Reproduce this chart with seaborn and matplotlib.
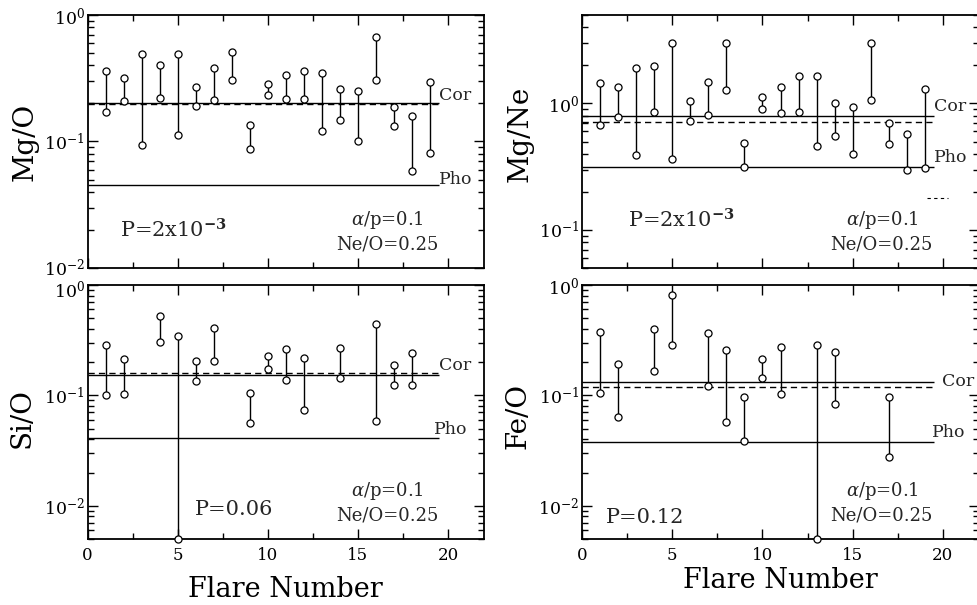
import numpy as np
import pandas as pd
import matplotlib
matplotlib.use("Agg")
import matplotlib.pyplot as plt
import matplotlib.transforms as mtransforms
import seaborn as sns
from matplotlib.ticker import FixedLocator, LogLocator, MultipleLocator, NullFormatter

sns.set_theme(style="ticks")
plt.rcParams['font.family'] = ['DejaVu Serif']
plt.rcParams['mathtext.fontset'] = 'dejavuserif'

# ---------------- data ----------------
mgo_flares = list(range(1, 20))
mgo_hi = [0.361, 0.318, 0.489, 0.405, 0.492, 0.269, 0.379, 0.511, 0.136, 0.284,
          0.338, 0.361, 0.351, 0.262, 0.250, 0.674, 0.188, 0.160, 0.298]
mgo_lo = [0.170, 0.208, 0.094, 0.221, 0.113, 0.192, 0.211, 0.305, 0.087, 0.234,
          0.218, 0.216, 0.120, 0.147, 0.100, 0.305, 0.133, 0.058, 0.081]
mgo_cor, mgo_cor_dash, mgo_pho = 0.202, 0.197, 0.045

mgne_flares = list(range(1, 20))
mgne_hi = [1.46, 1.35, 1.89, 1.99, 2.99, 1.04, 1.48, 2.99, 0.49, 1.12,
           1.36, 1.65, 1.64, 1.00, 0.93, 2.99, 0.70, 0.57, 1.29]
mgne_lo = [0.68, 0.78, 0.39, 0.85, 0.363, 0.73, 0.81, 1.27, 0.314, 0.90,
           0.845, 0.855, 0.46, 0.557, 0.40, 1.06, 0.48, 0.30, 0.309]
mgne_cor, mgne_cor_dash, mgne_pho = 0.79, 0.71, 0.316

sio_flares = [1, 2, 4, 5, 6, 7, 9, 10, 11, 12, 14, 16, 17, 18]
sio_hi = [0.286, 0.212, 0.520, 0.347, 0.206, 0.405, 0.106, 0.227, 0.265, 0.218,
          0.270, 0.440, 0.187, 0.240]
sio_lo = [0.100, 0.103, 0.306, 0.005, 0.134, 0.205, 0.056, 0.174, 0.138, 0.074,
          0.143, 0.059, 0.124, 0.125]
sio_cor, sio_cor_dash, sio_pho = 0.154, 0.159, 0.041

feo_flares = [1, 2, 4, 5, 7, 8, 9, 10, 11, 13, 14, 17]
feo_hi = [0.375, 0.194, 0.402, 0.817, 0.365, 0.258, 0.096, 0.213, 0.274, 0.284,
          0.246, 0.096]
feo_lo = [0.106, 0.064, 0.166, 0.288, 0.122, 0.057, 0.0386, 0.143, 0.104, 0.005,
          0.083, 0.0276]
feo_cor, feo_cor_dash, feo_pho = 0.133, 0.119, 0.0375

ylabels = ["Mg/O", "Mg/Ne", "Si/O", "Fe/O"]
p_labels = [r"P=2x10$^{\mathbf{-3}}$", r"P=2x10$^{\mathbf{-3}}$", "P=0.06", "P=0.12"]
param_line1 = r"$\alpha$/p=0.1"
param_line2 = "Ne/O=0.25"
xlabel = "Flare Number"
ytick_values = [[0.01, 0.1, 1.0], [0.1, 1.0], [0.01, 0.1, 1.0], [0.01, 0.1, 1.0]]

# ---------------- layout ----------------
W, H = 977, 605
fig = plt.figure(figsize=(W / 100, H / 100), dpi=100)


def rect(l, t, r, b):
    return [l / W, 1 - b / H, (r - l) / W, (b - t) / H]


panels = [
    dict(flares=mgo_flares, hi=mgo_hi, lo=mgo_lo, cor=mgo_cor, dash=mgo_cor_dash, pho=mgo_pho,
         ylim=(0.01, 1.0), rect=rect(87.5, 15, 484, 268), ylab=ylabels[0], ptxt=p_labels[0],
         ppos=(0.082, 0.15), cor_off=5.0, pho_off=4.5, cor_x=19.5, pho_x=19.5, xlab=False,
         ylab_xy=(-0.123, 0.5)),
    dict(flares=mgne_flares, hi=mgne_hi, lo=mgne_lo, cor=mgne_cor, dash=mgne_cor_dash, pho=mgne_pho,
         ylim=(0.05, 5.0), rect=rect(582, 15, 979, 268), ylab=ylabels[1], ptxt=p_labels[1],
         ppos=(0.117, 0.19), cor_off=7.0, pho_off=6.5, cor_x=19.5, pho_x=19.5, xlab=False,
         ylab_xy=(-0.123, 0.53)),
    dict(flares=sio_flares, hi=sio_hi, lo=sio_lo, cor=sio_cor, dash=sio_cor_dash, pho=sio_pho,
         ylim=(0.005, 1.0), rect=rect(87.5, 285, 484, 539), ylab=ylabels[2], ptxt=p_labels[2],
         ppos=(0.271, 0.115), cor_off=6.5, pho_off=6.0, cor_x=19.5, pho_x=19.2, xlab=True,
         ylab_xy=(-0.132, 0.475)),
    dict(flares=feo_flares, hi=feo_hi, lo=feo_lo, cor=feo_cor, dash=feo_cor_dash, pho=feo_pho,
         ylim=(0.005, 1.0), rect=rect(582, 285, 979, 539), ylab=ylabels[3], ptxt=p_labels[3],
         ppos=(0.059, 0.083), cor_off=0.0, pho_off=7.0, cor_x=19.95, pho_x=19.4, xlab=True,
         ylab_xy=(-0.126, 0.485)),
]

for i, p in enumerate(panels):
    ax = fig.add_axes(p["rect"])
    ax.set_yscale("log")
    ax.set_xlim(0, 22)
    ax.set_ylim(*p["ylim"])

    fl = np.asarray(p["flares"], dtype=float)
    hi = np.asarray(p["hi"])
    lo = np.asarray(p["lo"])
    ax.vlines(fl, lo, hi, colors="black", linewidth=1.0, zorder=2)

    df = pd.DataFrame({"flare": np.r_[fl, fl], "ratio": np.r_[hi, lo]})
    sns.scatterplot(data=df, x="flare", y="ratio", ax=ax, marker="o", s=26,
                    color="white", edgecolor="black", linewidth=0.9,
                    zorder=3, clip_on=False)

    # reference levels
    ax.hlines(p["cor"], 0, 19.5, colors="black", linewidth=1.0, zorder=1)
    ax.hlines(p["dash"], 0, 19.5, colors="black", linewidth=1.0,
              linestyles=(0, (4.5, 3.0)), zorder=1)
    ax.hlines(p["pho"], 0, 19.5, colors="black", linewidth=1.0, zorder=1)

    ax.annotate("Cor", xy=(p["cor_x"], p["cor"]), xytext=(0, p["cor_off"]),
                textcoords="offset points", ha="left", va="center", fontsize=12.5)
    ax.annotate("Pho", xy=(p["pho_x"], p["pho"]), xytext=(0, p["pho_off"]),
                textcoords="offset points", ha="left", va="center", fontsize=12.5)

    if i == 1:
        ax.hlines(0.18, 19.1, 20.3, colors="black", linewidth=0.8,
                  linestyles=(0, (3.0, 3.0)))

    ax.text(p["ppos"][0], p["ppos"][1], p["ptxt"], transform=ax.transAxes,
            ha="left", va="center", fontsize=15)
    ax.text(0.757, 0.19, param_line1, transform=ax.transAxes,
            ha="center", va="center", fontsize=13)
    ax.text(0.755, 0.094, param_line2, transform=ax.transAxes,
            ha="center", va="center", fontsize=13)

    # ticks
    ax.xaxis.set_major_locator(MultipleLocator(5))
    ax.xaxis.set_minor_locator(MultipleLocator(2.5))
    ax.yaxis.set_major_locator(FixedLocator(ytick_values[i]))
    ax.yaxis.set_minor_locator(LogLocator(base=10, subs=np.arange(2, 10)))
    ax.yaxis.set_minor_formatter(NullFormatter())
    ax.tick_params(which="both", direction="in", top=True, right=True,
                   colors="black", width=1.0)
    ax.tick_params(which="major", length=7)
    ax.tick_params(which="minor", length=4)
    ax.tick_params(axis="y", which="major", labelsize=12.5, pad=2)
    ax.tick_params(axis="x", which="major", labelsize=12, pad=6)
    for s in ax.spines.values():
        s.set_color("black")
        s.set_linewidth(1.3)

    # nudge the tick labels at the junction of stacked panels apart
    ticks = ax.yaxis.get_major_ticks(len(ytick_values[i]))
    if i == 0:
        off = mtransforms.ScaledTranslation(0, 2 / 100, fig.dpi_scale_trans)
        ticks[0].label1.set_transform(ticks[0].label1.get_transform() + off)
    if i == 2:
        off = mtransforms.ScaledTranslation(0, -3 / 100, fig.dpi_scale_trans)
        ticks[-1].label1.set_transform(ticks[-1].label1.get_transform() + off)

    ax.set_ylabel(p["ylab"], fontsize=20, color="black")
    ax.yaxis.set_label_coords(*p["ylab_xy"])
    if p["xlab"]:
        ax.set_xlabel(xlabel, fontsize=19.5, color="black")
        ax.xaxis.set_label_coords(0.5, -0.145 if i == 2 else -0.11)
    else:
        ax.set_xlabel("")
        ax.tick_params(axis="x", labelbottom=False)

fig.savefig("out.png", dpi=100, facecolor="white")
